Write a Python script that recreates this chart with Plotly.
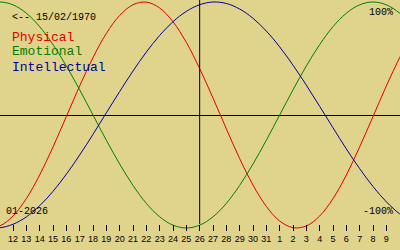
import plotly.graph_objects as go

# day index: Dec 12 = 12 ... Dec 31 = 31, Jan 1 = 32 ... Jan 9 = 40
days = list(range(10, 43))
physical = [-0.997, -0.982, -0.894, -0.740, -0.531, -0.283, -0.014, 0.257, 0.508, 0.722,
            0.881, 0.976, 0.999, 0.947, 0.825, 0.642, 0.411, 0.150, -0.122, -0.386,
            -0.620, -0.809, -0.938, -0.997, -0.982, -0.894, -0.740, -0.531, -0.282, -0.014,
            0.257, 0.508, 0.722]
emotional = [0.975, 1.000, 0.975, 0.901, 0.782, 0.623, 0.434, 0.223, 0.000, -0.223,
             -0.434, -0.623, -0.782, -0.901, -0.975, -1.000, -0.975, -0.901, -0.782, -0.623,
             -0.434, -0.223, 0.000, 0.223, 0.434, 0.623, 0.782, 0.901, 0.975, 1.000,
             0.975, 0.901, 0.782]
intellectual = [-0.992, -0.998, -0.967, -0.902, -0.803, -0.676, -0.524, -0.354, -0.171, 0.019,
                0.208, 0.389, 0.557, 0.704, 0.826, 0.917, 0.976, 1.000, 0.987, 0.938,
                0.856, 0.743, 0.603, 0.441, 0.264, 0.077, -0.113, -0.300, -0.475, -0.633,
                -0.768, -0.875, -0.951]

tick_days = list(range(12, 41))
tick_labels = [str(d) for d in range(12, 32)] + [str(d) for d in range(1, 10)]
today = 26
birth_label = "<-- 15/02/1970"
month_label = "01-2026"
series_names = ["Physical", "Emotional", "Intellectual"]
series_colors = ["#e00000", "#008000", "#0000a0"]

BG = "#e0d38b"
W, H = 400, 250
MONO = "Liberation Mono, DejaVu Sans Mono, monospace"

fig = go.Figure()
for name, vals, col in zip(series_names, [physical, emotional, intellectual], series_colors):
    fig.add_trace(go.Scatter(x=days, y=vals, mode="lines", name=name,
                             line=dict(color=col, width=1, shape="spline"),
                             hoverinfo="skip"))

fig.add_shape(type="line", xref="x", yref="paper", x0=today, x1=today,
              y0=(H - 224) / H, y1=1, line=dict(color="black", width=1))

def ypaper(py):
    return 1 - py / H

anns = [
    dict(text=birth_label, x=10 / W, y=ypaper(17), color="black", size=10, xanchor="left"),
    dict(text=series_names[0], x=10 / W, y=ypaper(37), color=series_colors[0], size=13, xanchor="left"),
    dict(text=series_names[1], x=10 / W, y=ypaper(52), color=series_colors[1], size=13, xanchor="left"),
    dict(text=series_names[2], x=10 / W, y=ypaper(67), color=series_colors[2], size=13, xanchor="left"),
    dict(text="100%", x=395 / W, y=ypaper(12), color="black", size=10, xanchor="right"),
    dict(text="-100%", x=395 / W, y=ypaper(211), color="black", size=10, xanchor="right"),
    dict(text=month_label, x=4 / W, y=ypaper(211), color="black", size=10, xanchor="left"),
]
for a in anns:
    fig.add_annotation(text=a["text"], xref="paper", yref="paper", x=a["x"], y=a["y"],
                       xanchor=a["xanchor"], yanchor="middle", showarrow=False,
                       font=dict(family=MONO, size=a["size"], color=a["color"]))

fig.update_layout(
    width=W, height=H, margin=dict(l=0, r=0, t=0, b=0),
    paper_bgcolor=BG, plot_bgcolor=BG, showlegend=False,
    xaxis=dict(range=[11.025, 41.025], domain=[0, 1], anchor="free", position=(H - 224) / H,
               tickmode="array", tickvals=tick_days, ticktext=tick_labels,
               ticks="outside", ticklen=6, tickwidth=1, tickcolor="black",
               showgrid=False, zeroline=False, showline=False,
               tickfont=dict(family="Liberation Sans Narrow, Arial Narrow, Liberation Sans, sans-serif",
                             size=9, color="black")),
    yaxis=dict(range=[-1.1947, 1.0177], domain=[0, 1], showgrid=False, showticklabels=False,
               ticks="", zeroline=True, zerolinecolor="black", zerolinewidth=1, showline=False),
)

fig.write_html("out.html")
